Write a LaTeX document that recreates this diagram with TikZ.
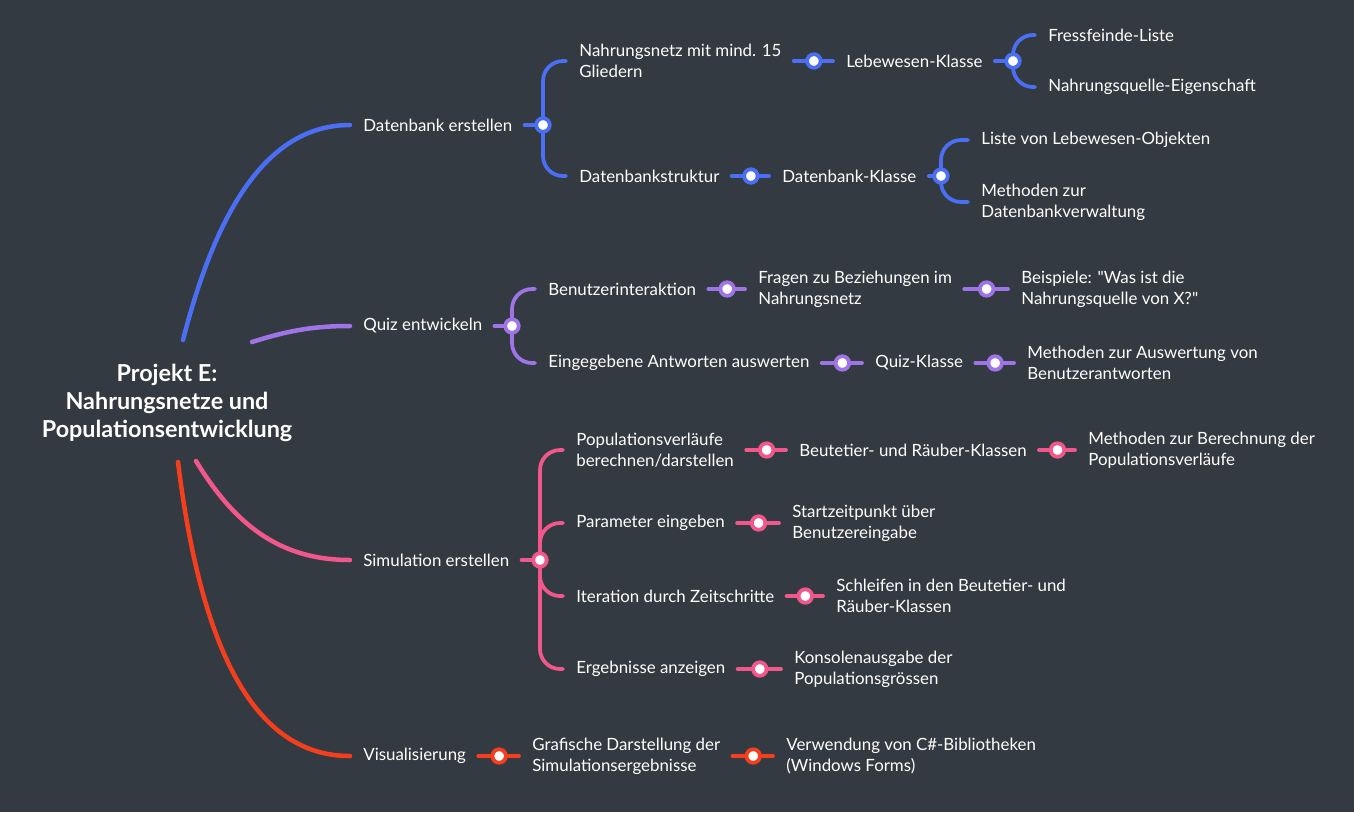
\documentclass[tikz,border=0pt]{standalone}
\usepackage{fontspec}
\setmainfont{Lato}[Ligatures=TeXOff]
\usetikzlibrary{calc}

\definecolor{mapbg}{HTML}{343A41}
\definecolor{mapblue}{HTML}{4A6FF5}
\definecolor{mappurple}{HTML}{9E74E6}
\definecolor{mappink}{HTML}{F2578B}
\definecolor{mapred}{HTML}{F43E1E}

\pgfdeclarelayer{back}
\pgfsetlayers{back,main}

\tikzset{
  root/.style={text=white, align=center, inner sep=0pt, font=\bfseries\fontsize{13.3}{15.9}\selectfont},
  topic/.style={text=white, anchor=west, inner sep=0pt, align=left, font=\fontsize{9.6}{11.8}\selectfont},
  dot/.style={circle, draw=#1, fill=white, line width=0.075cm, minimum size=0.27cm, inner sep=0pt},
  trunk/.style={draw=#1, line width=0.09cm, line cap=round},
  stem/.style={draw=#1, line width=0.075cm, line cap=round},
  lead/.style={stem=#1, shorten <=0.24cm},
  fork/.style={stem=#1, rounded corners=0.4cm},
  link/.style={stem=#1, shorten <=0.24cm, shorten >=0.26cm},
}

\begin{document}
\begin{tikzpicture}[x=0.02cm, y=-0.02cm]
% Hintergrund
\begin{pgfonlayer}{back}
\fill[mapbg] (0,0) rectangle (1354,812);
\end{pgfonlayer}

% Zentrales Thema
\node[root] (root) at (167,403) {Projekt E:\\Nahrungsnetze und\\Populationsentwicklung};
\coordinate (rootblue) at (183,340);
\coordinate (rootpurple) at (252,342);
\coordinate (rootpink) at (196,461);
\coordinate (rootred) at (178,462);

% Datenbank
\node[topic] (db) at (363,125) {Datenbank erstellen};
\node[dot=mapblue] (dbfork) at (543,125) {};
\node[topic] (netz) at (579,61) {Nahrungsnetz mit mind. 15\\Gliedern};
\node[topic] (struktur) at (579,176) {Datenbankstruktur};
\node[topic] (lwk) at (846,61) {Lebewesen-Klasse};
\node[dot=mapblue] (lwkfork) at (1013,61) {};
\node[topic] (fress) at (1048,35) {Fressfeinde-Liste};
\node[topic] (quelle) at (1048,87) {Nahrungsquelle-Eigenschaft};
\node[topic] (dbk) at (782,176) {Datenbank-Klasse};
\node[dot=mapblue] (dbkfork) at (941,176) {};
\node[topic] (objliste) at (981,140) {Liste von Lebewesen-Objekten};
\node[topic] (dbverw) at (981,202) {Methoden zur\\Datenbankverwaltung};
\foreach \a/\b in {netz/lwk, struktur/dbk}
  \node[dot=mapblue] (\a dot) at ($(\a.east)!0.5!(\b.west)$) {};

% Quiz
\node[topic] (quiz) at (363,326) {Quiz entwickeln};
\node[dot=mappurple] (quizfork) at (512,326) {};
\node[topic] (inter) at (548,289) {Benutzerinteraktion};
\node[topic] (antw) at (548,363) {Eingegebene Antworten auswerten};
\node[topic] (fragen) at (758,289) {Fragen zu Beziehungen im\\Nahrungsnetz};
\node[topic] (beisp) at (1021,289) {Beispiele: "Was ist die\\Nahrungsquelle von X?"};
\node[topic] (qk) at (875,363) {Quiz-Klasse};
\node[topic] (ausw) at (1027,363) {Methoden zur Auswertung von\\Benutzerantworten};
\foreach \a/\b in {inter/fragen, fragen/beisp, antw/qk, qk/ausw}
  \node[dot=mappurple] (\a dot) at ($(\a.east)!0.5!(\b.west)$) {};

% Simulation
\node[topic] (sim) at (363,560) {Simulation erstellen};
\node[dot=mappink] (simfork) at (540,560) {};
\node[topic] (popv) at (576,450) {Populationsverläufe\\berechnen/darstellen};
\node[topic] (param) at (576,523) {Parameter eingeben};
\node[topic] (iter) at (576,596) {Iteration durch Zeitschritte};
\node[topic] (ergeb) at (576,669) {Ergebnisse anzeigen};
\node[topic] (brk) at (799,450) {Beutetier- und Räuber-Klassen};
\node[topic] (berech) at (1088,450) {Methoden zur Berechnung der\\Populationsverläufe};
\node[topic] (start) at (792,523) {Startzeitpunkt über\\Benutzereingabe};
\node[topic] (schleif) at (836,596) {Schleifen in den Beutetier- und\\Räuber-Klassen};
\node[topic] (konsole) at (794,669) {Konsolenausgabe der\\Populationsgrössen};
\foreach \a/\b in {popv/brk, brk/berech, param/start, iter/schleif, ergeb/konsole}
  \node[dot=mappink] (\a dot) at ($(\a.east)!0.5!(\b.west)$) {};

% Visualisierung
\node[topic] (vis) at (363,756) {Visualisierung};
\node[topic] (graf) at (532,756) {Grafische Darstellung der\\Simulationsergebnisse};
\node[topic] (csharp) at (786,756) {Verwendung von C\#-Bibliotheken\\(Windows Forms)};
\foreach \a/\b in {vis/graf, graf/csharp}
  \node[dot=mapred] (\a dot) at ($(\a.east)!0.5!(\b.west)$) {};

% Verbindungen
\begin{pgfonlayer}{back}
\draw[trunk=mapblue] (rootblue) .. controls (215,215) and (265,125) .. ($(db.west)+(-13,0)$);
\draw[trunk=mappurple] (rootpurple) .. controls (290,330) and (315,326) .. ($(quiz.west)+(-13,0)$);
\draw[trunk=mappink] (rootpink) .. controls (235,525) and (280,560) .. ($(sim.west)+(-13,0)$);
\draw[trunk=mapred] (rootred) .. controls (200,640) and (250,756) .. ($(vis.west)+(-13,0)$);

\draw[lead=mapblue] (db.east) -- (dbfork.center);
\draw[lead=mapblue] (lwk.east) -- (lwkfork.center);
\draw[lead=mapblue] (dbk.east) -- (dbkfork.center);
\draw[lead=mappurple] (quiz.east) -- (quizfork.center);
\draw[lead=mappink] (sim.east) -- (simfork.center);

\foreach \f/\c in {dbfork/netz, dbfork/struktur, lwkfork/fress, lwkfork/quelle, dbkfork/objliste, dbkfork/dbverw}
  \draw[fork=mapblue] (\f.center) |- ($(\c.west)+(-13,0)$);
\foreach \c in {inter, antw}
  \draw[fork=mappurple] (quizfork.center) |- ($(\c.west)+(-13,0)$);
\foreach \c in {popv, param, iter, ergeb}
  \draw[fork=mappink] (simfork.center) |- ($(\c.west)+(-13,0)$);

\foreach \a/\b in {netz/lwk, struktur/dbk}
  \draw[link=mapblue] (\a.east) -- (\b.west);
\foreach \a/\b in {inter/fragen, fragen/beisp, antw/qk, qk/ausw}
  \draw[link=mappurple] (\a.east) -- (\b.west);
\foreach \a/\b in {popv/brk, brk/berech, param/start, iter/schleif, ergeb/konsole}
  \draw[link=mappink] (\a.east) -- (\b.west);
\foreach \a/\b in {vis/graf, graf/csharp}
  \draw[link=mapred] (\a.east) -- (\b.west);
\end{pgfonlayer}
\end{tikzpicture}
\end{document}
